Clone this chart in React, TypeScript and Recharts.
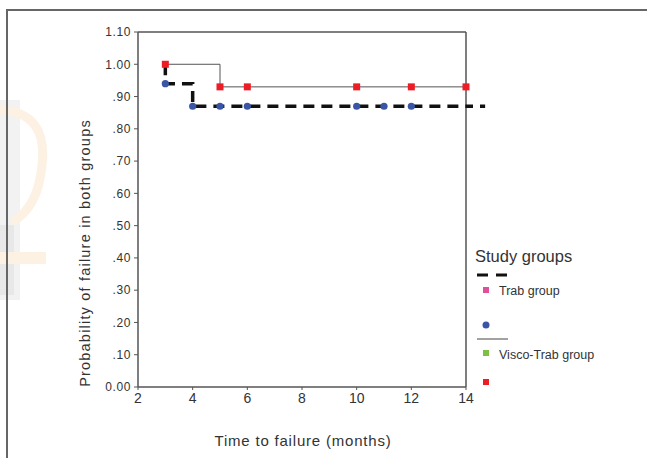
import React from 'react';
import { ComposedChart, Line, Scatter, XAxis, YAxis, ReferenceLine } from 'recharts';

const xTicks = [2, 4, 6, 8, 10, 12, 14];
const yTicks = [0, 0.1, 0.2, 0.3, 0.4, 0.5, 0.6, 0.7, 0.8, 0.9, 1.0, 1.1];

// Trab group (dashed step curve, blue censor points)
const trabLine = [
  { x: 3, y: 1.0 },
  { x: 3, y: 0.94 },
  { x: 4, y: 0.87 },
  { x: 14, y: 0.87 },
];
const trabPoints = [
  { x: 3, y: 0.94 },
  { x: 4, y: 0.87 },
  { x: 5, y: 0.87 },
  { x: 6, y: 0.87 },
  { x: 10, y: 0.87 },
  { x: 11, y: 0.87 },
  { x: 12, y: 0.87 },
];
const trabTailEnd = 14.7;

// Visco-Trab group (solid step curve, red censor points)
const viscoLine = [
  { x: 3, y: 1.0 },
  { x: 5, y: 0.93 },
  { x: 14, y: 0.93 },
];
const viscoPoints = [
  { x: 3, y: 1.0 },
  { x: 5, y: 0.93 },
  { x: 6, y: 0.93 },
  { x: 10, y: 0.93 },
  { x: 12, y: 0.93 },
  { x: 14, y: 0.93 },
];

const fmtY = (v: number) => {
  if (v === 0) return '0.00';
  const s = v.toFixed(2);
  return v < 1 ? s.replace(/^0/, '') : s;
};

const BlueDot = (p: any) => <circle cx={p.cx} cy={p.cy} r={3.6} fill="#3a55a6" />;
const RedSquare = (p: any) => <rect x={p.cx - 3.5} y={p.cy - 3.5} width={7} height={7} fill="#ee1c24" />;

export default function App() {
  return (
    <div
      style={{
        position: 'absolute',
        left: 0,
        top: 0,
        width: 647,
        height: 458,
        background: '#fff',
        fontFamily: '"Liberation Sans", Arial, sans-serif',
        overflow: 'hidden',
      }}
    >
      {/* faint background watermark */}
      <svg width={647} height={458} style={{ position: 'absolute', left: 0, top: 0 }}>
        <rect x={0} y={100} width={20} height={200} fill="#f2f2f2" />
        <rect x={0} y={225} width={14} height={70} fill="#e8e8e8" />
        <path d="M 0 110 Q 48 112 42 165 Q 38 208 12 222" fill="none" stroke="#fcf1e2" strokeWidth={9} />
        <rect x={0} y={252} width={46} height={12} fill="#fcf1e2" />
      </svg>
      <div style={{ position: 'absolute', left: 6, top: 9, width: 641, height: 2, background: '#666' }} />
      <div style={{ position: 'absolute', left: 6, top: 9, width: 2, height: 449, background: '#666' }} />
      <div style={{ position: 'absolute', left: 0, top: 0 }}>
        <ComposedChart width={647} height={458} margin={{ top: 32, right: 181, bottom: 41, left: 98 }}>
          <XAxis
            type="number"
            dataKey="x"
            domain={[2, 14]}
            ticks={xTicks}
            height={30}
            tickSize={3}
            tickMargin={3}
            axisLine={{ stroke: '#555', strokeWidth: 1.5 }}
            tickLine={{ stroke: '#555' }}
            tick={{ fontSize: 14, fill: '#333' }}
          />
          <YAxis
            type="number"
            dataKey="y"
            domain={[0, 1.1]}
            ticks={yTicks}
            width={40}
            tickSize={4}
            tickMargin={3}
            tickFormatter={fmtY}
            axisLine={{ stroke: '#555', strokeWidth: 1.5 }}
            tickLine={{ stroke: '#555' }}
            tick={{ fontSize: 12, fill: '#333', letterSpacing: 0.6 }}
          />
          <ReferenceLine y={1.1} stroke="#555" strokeWidth={1.5} />
          <ReferenceLine x={14} stroke="#555" strokeWidth={1.5} />
          <Line
            data={viscoLine}
            dataKey="y"
            type="stepAfter"
            stroke="#555"
            strokeWidth={1}
            dot={false}
            isAnimationActive={false}
          />
          <Line
            data={trabLine}
            dataKey="y"
            type="stepAfter"
            stroke="#111"
            strokeWidth={3.5}
            strokeDasharray="11 7"
            dot={false}
            isAnimationActive={false}
          />
          <ReferenceLine
            segment={[
              { x: 14, y: 0.87 },
              { x: trabTailEnd, y: 0.87 },
            ]}
            ifOverflow="visible"
            stroke="#111"
            strokeWidth={3.5}
            strokeDasharray="7 7"
          />
          <Scatter data={trabPoints} dataKey="y" shape={BlueDot} isAnimationActive={false} />
          <Scatter data={viscoPoints} dataKey="y" shape={RedSquare} isAnimationActive={false} />
        </ComposedChart>
      </div>
      <svg
        width={647}
        height={458}
        style={{ position: 'absolute', left: 0, top: 0, pointerEvents: 'none' }}
      >
        <text x={303} y={446} textAnchor="middle" fontSize={15} fill="#333" letterSpacing={0.8}>
          Time to failure (months)
        </text>
        <text
          x={0}
          y={0}
          transform="translate(90,253) rotate(-90)"
          textAnchor="middle"
          fontSize={14.5}
          fill="#333"
          letterSpacing={1.2}
        >
          Probability of failure in  both groups
        </text>
        <text x={475} y={262} fontSize={16.5} fill="#333">Study groups</text>
        <line x1={477} x2={508} y1={275} y2={275} stroke="#111" strokeWidth={3} strokeDasharray="11 8" />
        <rect x={483} y={287} width={6} height={6} fill="#e0509a" />
        <text x={499} y={295} fontSize={12.5} fill="#333">Trab group</text>
        <circle cx={486} cy={325} r={3.5} fill="#3a55a6" />
        <line x1={477} x2={508} y1={339} y2={339} stroke="#444" strokeWidth={1} />
        <rect x={483} y={350} width={6} height={6} fill="#7cc242" />
        <text x={499} y={359} fontSize={12.5} fill="#333">Visco-Trab group</text>
        <rect x={483} y={379} width={6} height={6} fill="#ee1c24" />
      </svg>
    </div>
  );
}
